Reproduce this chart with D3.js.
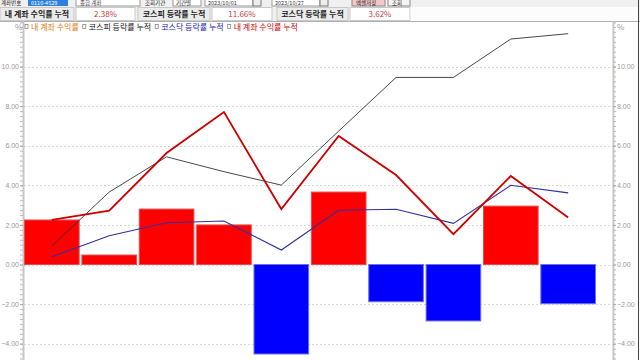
<!DOCTYPE html>
<html>
<head>
<meta charset="utf-8">
<script src="https://cdn.jsdelivr.net/npm/d3@7"></script>
<style>
  body { margin: 0; background: #fff; }
  svg { display: block; font-family: "Noto Sans CJK KR", "DejaVu Sans", sans-serif; }
</style>
</head>
<body>
<svg id="chart" width="640" height="360"></svg>
<script>
// trading days (no labels shown on the x axis)
const days = ["1", "2", "3", "4", "5", "6", "7", "8", "9", "10"];
// daily return of my account (%)
const dailyReturn = [2.25, 0.48, 2.80, 2.00, -4.52, 3.66, -1.88, -2.85, 2.95, -1.98];
// cumulative series (%)
const myCum = [2.25, 2.72, 5.63, 7.70, 2.80, 6.49, 4.52, 1.53, 4.47, 2.38];
const kospiCum = [0.93, 3.66, 5.44, 4.69, 4.01, 6.74, 9.45, 9.45, 11.39, 11.66];
const kosdaqCum = [0.39, 1.45, 2.11, 2.20, 0.73, 2.74, 2.79, 2.08, 4.00, 3.62];
const yTicks = [-4, -2, 0, 2, 4, 6, 8, 10];
const summary = [
  { label: "내 계좌 수익률 누적", value: "2.38%" },
  { label: "코스피 등락률 누적", value: "11.66%" },
  { label: "코스닥 등락률 누적", value: "3.62%" }
];
const legendItems = [
  { name: "내 계좌 수익률", color: "#e07800" },
  { name: "코스피 등락률 누적", color: "#111" },
  { name: "코스닥 등락률 누적", color: "#2222aa" },
  { name: "내 계좌 수익률 누적", color: "#cc0000" }
];

const svg = d3.select("#chart");

// ---- header (toolbar rows) ----
svg.append("rect").attr("x", 0).attr("y", 0).attr("width", 640).attr("height", 21).attr("fill", "#f0f0f0");

// first row: only its lower edge shows in the picture
const toolbar = svg.append("g").attr("font-size", 5.5);
const tb = (x, w, fill, stroke) => toolbar.append("rect").attr("x", x).attr("y", -3)
  .attr("width", w).attr("height", 9).attr("fill", fill).attr("stroke", stroke || "none");
const tt = (x, t, c) => toolbar.append("text").attr("x", x).attr("y", 5).attr("fill", c || "#222").text(t);
tt(1, "계좌번호");
tb(28, 40, "#2f7fe0"); tt(31, "0110-4529", "#fff");
tb(76, 64, "#fff", "#999"); tt(80, "종합 계좌", "#444");
tt(145, "조회기간");
tb(173, 28, "#fff", "#999"); tt(176, "기간별");
[[205, "2023/10/01"], [272, "2023/10/27"]].forEach(([x, t]) => {
  tb(x, 48, "#fff", "#999"); tt(x + 3, t, "#333");
  tb(x + 48, 8, "#eee", "#777");
});
tb(352, 33, "#f4c8c8", "#888"); tt(356, "엑셀저장");
tb(388, 22, "#f4f4f4", "#888"); tt(392, "조회");

// second row: summary cells
const cellX = [[0, 74, 76, 59], [138, 72, 212, 60], [277, 71, 350, 60]];
summary.forEach((d, i) => {
  const [lx, lw, vx, vw] = cellX[i];
  svg.append("rect").attr("x", lx).attr("y", 7.5).attr("width", lw).attr("height", 13)
    .attr("fill", "#ececec").attr("stroke", "#c8c8c8");
  svg.append("text").attr("x", lx + lw / 2).attr("y", 17).attr("text-anchor", "middle")
    .attr("font-size", 8).attr("font-weight", "bold").attr("fill", "#222").text(d.label);
  svg.append("rect").attr("x", vx).attr("y", 7.5).attr("width", vw).attr("height", 13)
    .attr("fill", "#fff").attr("stroke", "#c8c8c8");
  svg.append("text").attr("x", vx + vw / 2).attr("y", 17).attr("text-anchor", "middle")
    .attr("font-size", 8).attr("fill", "#c04040").text(d.value);
});
svg.append("rect").attr("x", 410.5).attr("y", 7).attr("width", 228).attr("height", 14).attr("fill", "#fcfcfc");
svg.append("line").attr("x1", 0).attr("x2", 640).attr("y1", 21.5).attr("y2", 21.5).attr("stroke", "#b0b0b0");
svg.append("line").attr("x1", 638.5).attr("x2", 638.5).attr("y1", 0).attr("y2", 360).attr("stroke", "#444");

// ---- chart ----
const x = d3.scaleBand().domain(days).range([24, 596]).paddingInner(0.03).paddingOuter(0);
const y = d3.scaleLinear().domain([-5, 12.25]).range([363.5, 22]);
const cx = (d, i) => x(days[i]) + x.bandwidth() / 2;

// grid
svg.append("g").selectAll("line").data(yTicks).join("line")
  .attr("x1", 24).attr("x2", 613)
  .attr("y1", d => Math.round(y(d)) + 0.5).attr("y2", d => Math.round(y(d)) + 0.5)
  .attr("stroke", "#d8d8d8").attr("stroke-dasharray", "2,2");

// axes
const minor = d3.range(-5, 12.25, 0.25);
const leftAxis = svg.append("g").attr("transform", "translate(23,0)")
  .call(d3.axisLeft(y).tickValues(minor).tickSize(3).tickFormat(""));
const rightAxis = svg.append("g").attr("transform", "translate(613,0)")
  .call(d3.axisRight(y).tickValues(minor).tickSize(3).tickFormat(""));
[leftAxis, rightAxis].forEach(a => {
  a.select(".domain").attr("stroke", "#c8c8c8").attr("stroke-width", 2);
  a.selectAll(".tick line").attr("stroke", "#bbb");
});
svg.append("g").attr("transform", "translate(23,0)")
  .call(d3.axisLeft(y).tickValues(yTicks).tickSize(3).tickPadding(1).tickFormat(d3.format(".2f")))
  .call(g => g.select(".domain").remove())
  .call(g => g.selectAll(".tick line").attr("stroke", "#aaa"))
  .call(g => g.selectAll("text").attr("fill", "#999").attr("font-size", 7).attr("font-family", "Liberation Sans, Arial, sans-serif"));
svg.append("g").attr("transform", "translate(613,0)")
  .call(d3.axisRight(y).tickValues(yTicks).tickSize(3).tickPadding(1).tickFormat(d3.format(".2f")))
  .call(g => g.select(".domain").remove())
  .call(g => g.selectAll(".tick line").attr("stroke", "#aaa"))
  .call(g => g.selectAll("text").attr("fill", "#999").attr("font-size", 7).attr("font-family", "Liberation Sans, Arial, sans-serif"));

svg.append("text").attr("x", 15).attr("y", 30).attr("font-size", 8).attr("fill", "#999").text("%");
svg.append("text").attr("x", 617).attr("y", 30).attr("font-size", 8).attr("fill", "#999").text("%");

// bars
svg.append("g").selectAll("rect").data(dailyReturn).join("rect")
  .attr("x", (d, i) => x(days[i]) + 0.5)
  .attr("width", x.bandwidth() - 1)
  .attr("y", d => y(Math.max(0, d)))
  .attr("height", d => Math.abs(y(d) - y(0)))
  .attr("fill", d => d >= 0 ? "#ff0000" : "#0000ff")
  .attr("stroke", d => d >= 0 ? "#e05050" : "#7070e0")
  .attr("stroke-width", 1);

// lines
const line = d3.line().x(cx).y(d => y(d));
svg.append("path").datum(kosdaqCum).attr("d", line).attr("fill", "none").attr("stroke", "#3030a0").attr("stroke-width", 1.1);
svg.append("path").datum(kospiCum).attr("d", line).attr("fill", "none").attr("stroke", "#333").attr("stroke-width", 0.9);
svg.append("path").datum(myCum).attr("d", line).attr("fill", "none").attr("stroke", "#cc0000").attr("stroke-width", 1.8);

// legend
const lg = svg.append("g");
let lx = 25;
legendItems.forEach(d => {
  lg.append("rect").attr("x", lx).attr("y", 24.5).attr("width", 3).attr("height", 4)
    .attr("fill", "#fff").attr("stroke", "#888").attr("stroke-width", 0.8);
  const t = lg.append("text").attr("x", lx + 6).attr("y", 30).attr("font-size", 8)
    .attr("fill", d.color).text(d.name);
  lx += 6 + t.node().getComputedTextLength() + 4;
});
</script>
</body>
</html>
